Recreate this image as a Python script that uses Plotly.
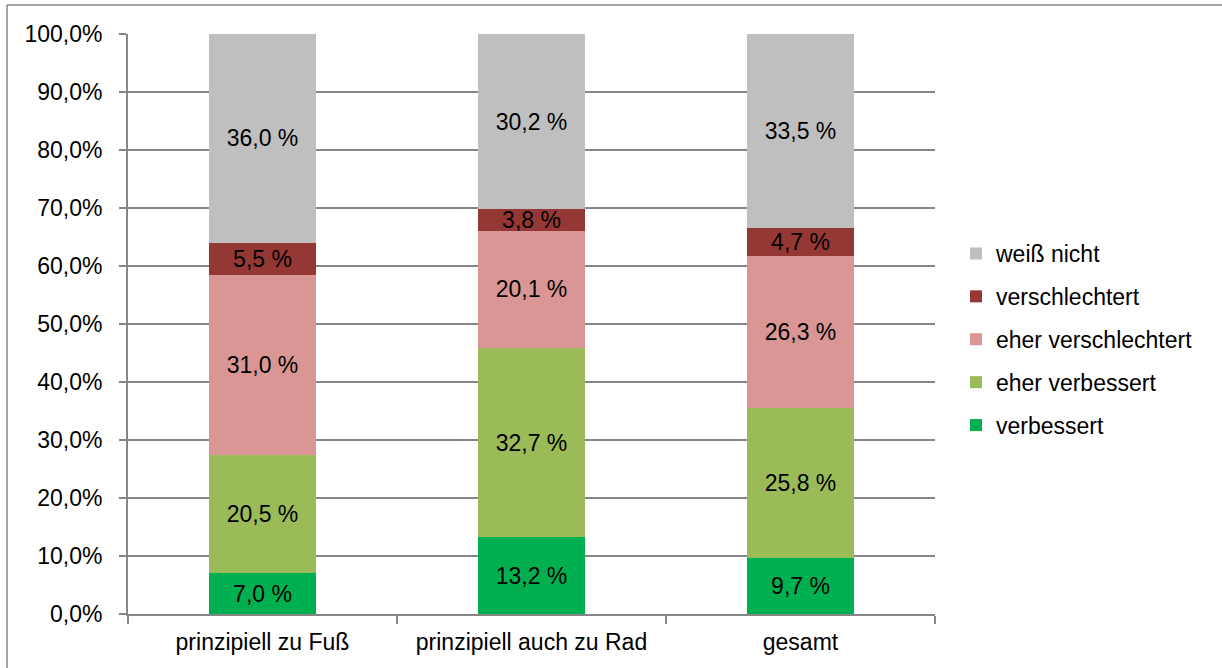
import plotly.graph_objects as go

# Kategorien und Anteile (in %)
categories = ["prinzipiell zu Fuß", "prinzipiell auch zu Rad", "gesamt"]
verbessert = [7.0, 13.2, 9.7]
eher_verbessert = [20.5, 32.7, 25.8]
eher_verschlechtert = [31.0, 20.1, 26.3]
verschlechtert = [5.5, 3.8, 4.7]
weiss_nicht = [36.0, 30.2, 33.5]
y_ticks = [0, 10, 20, 30, 40, 50, 60, 70, 80, 90, 100]
y_ticktext = [f"{v:.1f}%".replace(".", ",") for v in y_ticks]

series = [
    ("verbessert", verbessert, "#00B050"),
    ("eher verbessert", eher_verbessert, "#9BBB59"),
    ("eher verschlechtert", eher_verschlechtert, "#D99694"),
    ("verschlechtert", verschlechtert, "#953735"),
    ("weiß nicht", weiss_nicht, "#BFBFBF"),
]

FONT = "Liberation Sans, Arial, sans-serif"
FS = 23

fig = go.Figure()
for i, (name, vals, color) in enumerate(series):
    fig.add_trace(go.Bar(
        x=categories, y=vals, name=name, legendgroup=name,
        legendrank=len(series) - i,
        marker=dict(color=color, line=dict(width=0)),
        texttemplate="%{y:.1f} %", textposition="inside",
        insidetextanchor="middle", textangle=0,
        textfont=dict(family=FONT, size=FS, color="#000000"),
        cliponaxis=False,
    ))

W, H = 1222, 668
L, R, T, B = 128, 1222 - 935, 34, 668 - 614
pw, ph = W - L - R, H - T - B

def px(x):
    return (x - L) / pw

def py(y):
    return (H - B - y) / ph

# Rahmen oben und links
fig.add_shape(type="line", xref="paper", yref="paper",
              x0=px(7), x1=px(1222), y0=py(5), y1=py(5),
              line=dict(color="#868686", width=1.5))
fig.add_shape(type="line", xref="paper", yref="paper",
              x0=px(7), x1=px(7), y0=py(5), y1=py(668),
              line=dict(color="#868686", width=1.5))

fig.update_layout(
    width=W, height=H,
    margin=dict(l=L, r=R, t=T, b=B, autoexpand=False),
    barmode="stack", bargap=0.6,
    separators=",.",
    paper_bgcolor="white", plot_bgcolor="white",
    font=dict(family=FONT, size=FS, color="#000000"),
    uniformtext=dict(minsize=FS, mode="show"),
    showlegend=True,
    legend=dict(
        traceorder="grouped", tracegroupgap=10,
        x=px(956), xanchor="left", y=py(232), yanchor="top",
        font=dict(family=FONT, size=FS, color="#000000"),
        itemwidth=30, bgcolor="rgba(0,0,0,0)",
    ),
    xaxis=dict(
        type="category", showgrid=False, showline=True,
        linecolor="#868686", linewidth=2,
        ticks="outside", tickson="boundaries", ticklen=8,
        tickcolor="#868686", tickwidth=2, ticklabelstandoff=6,
        tickfont=dict(family=FONT, size=FS, color="#000000"),
    ),
    yaxis=dict(
        range=[0, 100], tickmode="array", tickvals=y_ticks, ticktext=y_ticktext,
        showgrid=True, gridcolor="#868686", gridwidth=2,
        showline=True, linecolor="#868686", linewidth=2,
        ticks="outside", ticklen=7, tickcolor="#868686", tickwidth=2,
        ticklabelstandoff=12, zeroline=False,
        tickfont=dict(family=FONT, size=FS, color="#000000"),
    ),
)

fig.write_html("out.html")
